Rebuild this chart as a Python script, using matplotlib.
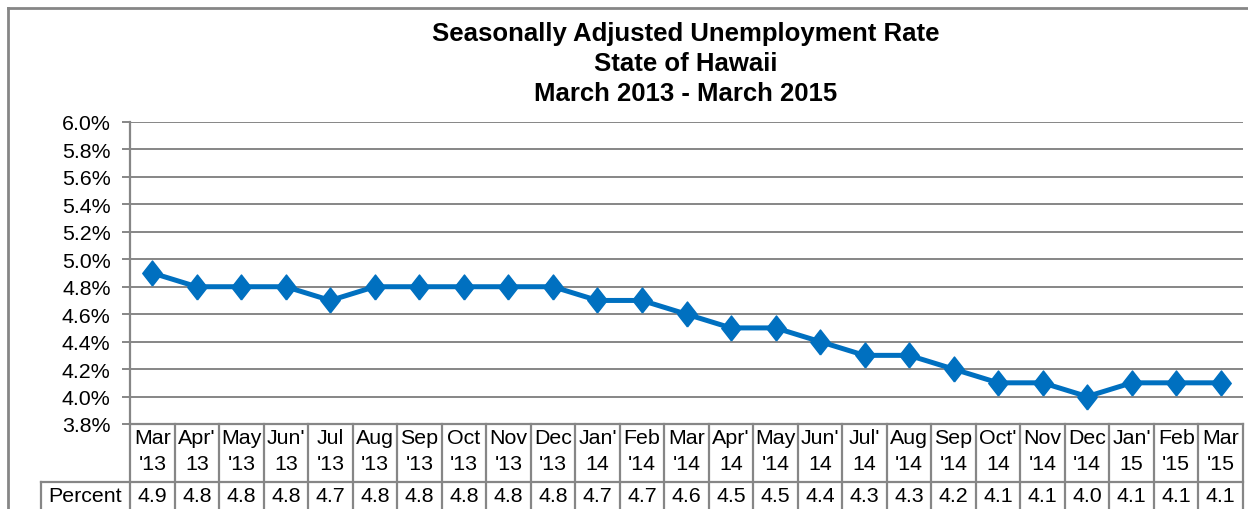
import matplotlib
matplotlib.use("Agg")
import matplotlib.pyplot as plt
from matplotlib.lines import Line2D
from matplotlib.ticker import FuncFormatter
import matplotlib.transforms as mtransforms

plt.rcParams['font.family'] = ['Liberation Sans', 'DejaVu Sans']

# monthly rate, Mar 2013 - Mar 2015
month_top = ["Mar", "Apr'", "May", "Jun'", "Jul", "Aug", "Sep", "Oct", "Nov", "Dec",
             "Jan'", "Feb", "Mar", "Apr'", "May", "Jun'", "Jul'", "Aug", "Sep", "Oct'",
             "Nov", "Dec", "Jan'", "Feb", "Mar"]
month_bot = ["'13", "13", "'13", "13", "'13", "'13", "'13", "'13", "'13", "'13",
             "14", "'14", "'14", "14", "'14", "14", "14", "'14", "'14", "14",
             "'14", "'14", "15", "'15", "'15"]
rate = [4.9, 4.8, 4.8, 4.8, 4.7, 4.8, 4.8, 4.8, 4.8, 4.8, 4.7, 4.7, 4.6,
        4.5, 4.5, 4.4, 4.3, 4.3, 4.2, 4.1, 4.1, 4.0, 4.1, 4.1, 4.1]
yticks = [3.8, 4.0, 4.2, 4.4, 4.6, 4.8, 5.0, 5.2, 5.4, 5.6, 5.8, 6.0]

W, H = 1248, 510
gray = '#868686'
blue = '#0070C0'
fs = 15.4

fig = plt.figure(figsize=(W / 100, H / 100), dpi=100)
ax = fig.add_axes([130 / W, 1 - 425 / H, (1243 - 130) / W, (425 - 123) / H])

# diamond a bit taller than wide, like the original
diamond = [(0, -1), (0.78, 0), (0, 1), (-0.78, 0), (0, -1)]
x = list(range(len(rate)))
ax.plot(x, rate, color=blue, lw=3.6, marker=diamond, markersize=18, zorder=3)

ax.set_xlim(-0.5, len(rate) - 0.5)
ax.set_ylim(3.8, 6.0)
ax.set_yticks(yticks)
ax.yaxis.set_major_formatter(FuncFormatter(lambda v, p: f"{v:.1f}%"))
ax.tick_params(axis='y', labelsize=fs, length=6, width=1.4, color=gray, pad=8)
ax.set_xticks([])
ax.grid(axis='y', color=gray, lw=1.4)
ax.set_axisbelow(True)
for s in ['top', 'right']:
    ax.spines[s].set_visible(False)
for s in ['left', 'bottom']:
    ax.spines[s].set_color(gray)
    ax.spines[s].set_linewidth(1.6)

# data table under the axis
tr = mtransforms.blended_transform_factory(ax.transData, ax.transAxes)
row1 = -58 / 302
row2 = -0.35
for i in range(len(rate) + 1):
    ax.add_line(Line2D([i - 0.5, i - 0.5], [0, row2], transform=tr, color=gray,
                       lw=1.6, clip_on=False))
ax.add_line(Line2D([-2.5, -2.5], [row1, row2], transform=tr, color=gray, lw=1.6, clip_on=False))
ax.add_line(Line2D([-2.5, len(rate) - 0.5], [row1, row1], transform=tr, color=gray,
                   lw=1.6, clip_on=False))
for i in x:
    ax.text(i, -14 / 302, month_top[i], transform=tr, ha='center', va='center', fontsize=fs)
    ax.text(i, -39 / 302, month_bot[i], transform=tr, ha='center', va='center', fontsize=fs)
    ax.text(i, -71 / 302, f"{rate[i]:.1f}", transform=tr, ha='center', va='center', fontsize=fs)
ax.text(-1.5, -71 / 302, "Percent", transform=tr, ha='center', va='center', fontsize=fs)

fig.text(686 / W, 1 - 64 / H,
         "Seasonally Adjusted Unemployment Rate\nState of Hawaii\nMarch 2013 - March 2015",
         ha='center', va='center', fontsize=18.5, fontweight='bold', linespacing=1.3)

# outer chart border
fig.add_artist(Line2D([8 / W, 1], [1 - 9 / H, 1 - 9 / H], transform=fig.transFigure, color=gray, lw=2))
fig.add_artist(Line2D([8 / W, 8 / W], [0, 1 - 9 / H], transform=fig.transFigure, color=gray, lw=2))

fig.savefig("out.png", dpi=100)
